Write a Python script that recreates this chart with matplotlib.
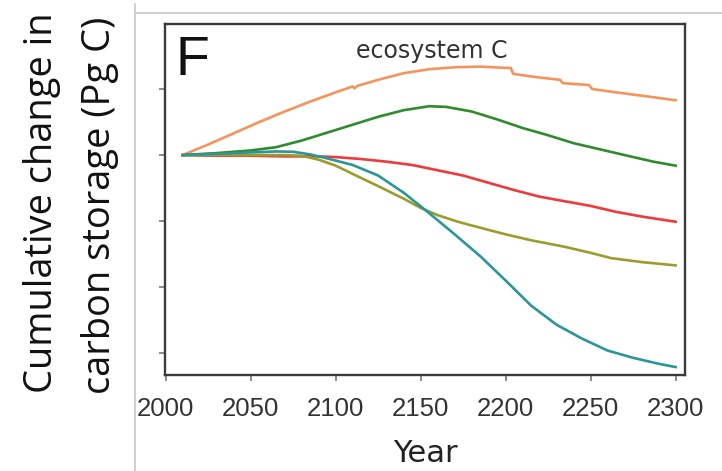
import matplotlib
matplotlib.use("Agg")
import matplotlib.pyplot as plt
from matplotlib.lines import Line2D

W, H = 722, 471
DPI = 100

# ---------------- data ----------------
orange_years = [2010, 2025, 2040, 2055, 2070, 2085, 2100, 2110, 2111, 2113, 2125, 2140,
                2155, 2170, 2185, 2200, 2203, 2204.5, 2218, 2232, 2233.5, 2249, 2251,
                2265, 2280, 2300]
orange_vals = [0, 16, 33, 50, 66, 81, 95, 104, 101, 105, 114, 124,
               130, 133, 134, 132, 132, 123, 118, 114, 109, 106, 100,
               95, 90, 83]

green_years = [2010, 2030, 2050, 2065, 2080, 2095, 2110, 2125, 2140, 2155, 2165, 2180,
               2195, 2210, 2225, 2240, 2250, 2265, 2275, 2287, 2300]
green_vals = [0, 3, 7, 12, 22, 34, 46, 58, 68, 74, 73, 66,
              54, 41, 30, 18, 12, 3, -3, -10, -16]

red_years = [2010, 2030, 2050, 2070, 2090, 2100, 2115, 2130, 2145, 2160, 2175, 2190,
             2205, 2220, 2235, 2250, 2265, 2280, 2300]
red_vals = [0, -1, -1, -2, -2, -3, -6, -10, -15, -23, -31, -42,
            -53, -63, -70, -77, -86, -93, -101]

teal_years = [2010, 2030, 2050, 2065, 2075, 2085, 2095, 2110, 2125, 2140, 2155, 2170,
              2185, 2200, 2215, 2230, 2245, 2260, 2275, 2290, 2300]
teal_vals = [0, 2, 4, 5.5, 5, 1, -5, -15, -31, -57, -88, -120,
             -153, -190, -228, -257, -278, -296, -307, -316, -321]

olive_years = [2010, 2030, 2050, 2070, 2080, 2090, 2100, 2112, 2125, 2140, 2150, 2160,
               2172, 2185, 2200, 2215, 2235, 2250, 2262, 2280, 2300]
olive_vals = [0, 0, 0, 0, -1, -7, -16, -31, -47, -66, -80, -91,
              -101, -110, -120, -129, -139, -148, -156, -162, -167]

x_ticks = [2000, 2050, 2100, 2150, 2200, 2250, 2300]
y_ticks = [-300, -200, -100, 0, 100]

series = [
    (orange_years, orange_vals, "#F5935C"),
    (green_years, green_vals, "#2E8B2E"),
    (red_years, red_vals, "#EE3A3A"),
    (olive_years, olive_vals, "#9C9C2C"),
    (teal_years, teal_vals, "#2A9699"),
]

# ---------------- figure ----------------
fig = plt.figure(figsize=(W / DPI, H / DPI), dpi=DPI)

def fx(px):
    return px / W

def fy(py):
    return 1 - py / H

# slide frame lines
fig.add_artist(Line2D([fx(135), fx(135)], [fy(4), fy(471)], color="#c8c8c8", lw=1.2))
fig.add_artist(Line2D([fx(135), fx(722)], [fy(13), fy(13)], color="#d0d0d0", lw=1.5))

ax_l, ax_r, ax_t, ax_b = 164.7, 685, 24, 375
ax = fig.add_axes([fx(ax_l), fy(ax_b), (ax_r - ax_l) / W, (ax_b - ax_t) / H])

for yrs, vals, col in series:
    ax.plot(yrs, vals, color=col, lw=1.9, solid_joinstyle="round")

ax.set_xlim(1999.4, 2305.5)
ax.set_ylim(-333, 198.5)
ax.set_xticks(x_ticks)
ax.set_xticklabels([str(t) for t in x_ticks], fontsize=18.5, color="#333333",
                   family="Liberation Sans")
ax.set_yticks(y_ticks)
ax.set_yticklabels([])
ax.tick_params(axis="both", direction="out", length=4.5, width=1.2, color="#777777")
ax.tick_params(axis="x", pad=11)
for s in ax.spines.values():
    s.set_color("#3a3a3a")
    s.set_linewidth(1.7)

# panel letter and title
fig.text(fx(175), fy(75), "F", fontsize=40, family="Liberation Sans",
         color="#111111", ha="left", va="baseline")
fig.text(fx(432), fy(58), "ecosystem C", fontsize=17, family="DejaVu Sans",
         color="#333333", ha="center", va="baseline")

# x label
fig.text(fx(425), fy(462), "Year", fontsize=22, family="DejaVu Sans",
         color="#222222", ha="center", va="baseline")

# y label, two lines, fitted to measured length
target_len = 378
fig.canvas.draw()
r = fig.canvas.get_renderer()
fs = 24
t_tmp = fig.text(0, 0, "carbon storage (Pg C)", fontsize=fs, family="Open Sans")
bb = t_tmp.get_window_extent(renderer=r)
fs = fs * target_len / bb.width
t_tmp.remove()

fig.text(fx(42), fy(203), "Cumulative change in", fontsize=fs, family="Open Sans",
         color="#111111", rotation=90, ha="center", va="center")
fig.text(fx(100), fy(205), "carbon storage (Pg C)", fontsize=fs, family="Open Sans",
         color="#111111", rotation=90, ha="center", va="center")

fig.savefig("out.png", dpi=DPI)
